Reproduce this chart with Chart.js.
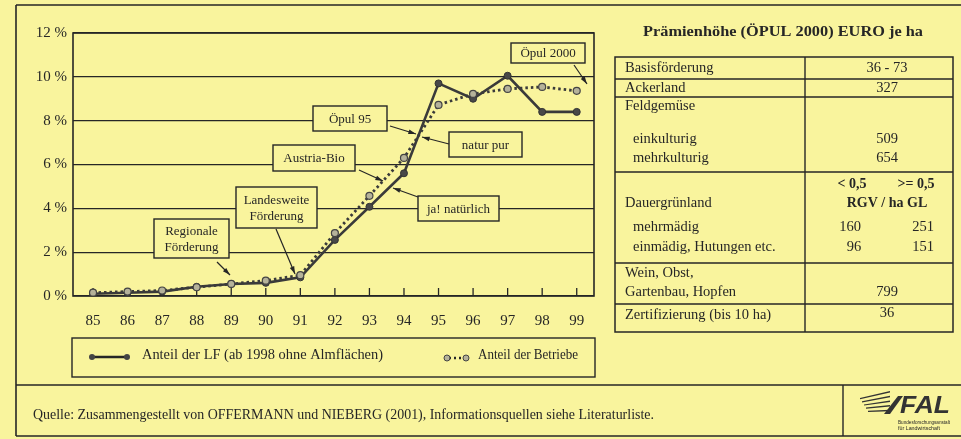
<!DOCTYPE html>
<html>
<head>
<meta charset="utf-8">
<script src="https://cdn.jsdelivr.net/npm/chart.js@4.4.1/dist/chart.umd.min.js"></script>
<style>
  html, body { margin: 0; padding: 0; background: #f9f49d; }
  #wrap { position: relative; width: 961px; height: 439px; }
</style>
</head>
<body>
<div id="wrap"><canvas id="chart" width="961" height="439"></canvas></div>
<script>
// --- data ---
const years = ['85', '86', '87', '88', '89', '90', '91', '92', '93', '94', '95', '96', '97', '98', '99'];
const anteilLF = [0.1, 0.15, 0.2, 0.42, 0.55, 0.6, 0.85, 2.56, 4.07, 5.6, 9.7, 9.0, 10.05, 8.4, 8.4];
const anteilBetriebe = [0.15, 0.2, 0.25, 0.4, 0.55, 0.7, 0.95, 2.87, 4.57, 6.3, 8.72, 9.22, 9.45, 9.54, 9.36];
const yTicks = [0, 2, 4, 6, 8, 10, 12];
const seriesNames = ['Anteil der LF (ab 1998 ohne Almflächen)', 'Anteil der Betriebe'];

const tableTitle = 'Prämienhöhe (ÖPUL 2000) EURO je ha';
const quelle = 'Quelle: Zusammengestellt von OFFERMANN und NIEBERG (2001), Informationsquellen siehe Literaturliste.';

const BG = '#f9f49d';
const INK = '#262626';
const SERIF = '"Liberation Serif", "DejaVu Serif", serif';

function text(ctx, str, x, y, o = {}) {
    const size = o.size || 14;
    ctx.save();
    ctx.font = (o.italic ? 'italic ' : '') + (o.bold ? 'bold ' : '') + size + 'px ' + (o.family || SERIF);
    ctx.fillStyle = o.color || INK;
    ctx.textBaseline = 'middle';
    let w = ctx.measureText(str).width;
    let sx = o.w ? o.w / w : 1;
    let left = x;
    if (o.align === 'center') left = x - w * sx / 2;
    if (o.align === 'right') left = x - w * sx;
    ctx.translate(left, y);
    ctx.scale(sx, 1);
    ctx.textAlign = 'left';
    ctx.fillText(str, 0, 0);
    ctx.restore();
}

function line(ctx, x1, y1, x2, y2, w = 1.3, dash) {
    ctx.save();
    ctx.strokeStyle = INK;
    ctx.lineWidth = w;
    if (dash) ctx.setLineDash(dash);
    ctx.beginPath();
    ctx.moveTo(x1, y1);
    ctx.lineTo(x2, y2);
    ctx.stroke();
    ctx.restore();
}

function arrow(ctx, x1, y1, x2, y2) {
    line(ctx, x1, y1, x2, y2, 1.2);
    const a = Math.atan2(y2 - y1, x2 - x1);
    ctx.save();
    ctx.fillStyle = INK;
    ctx.beginPath();
    ctx.moveTo(x2, y2);
    ctx.lineTo(x2 - 8 * Math.cos(a - 0.3), y2 - 8 * Math.sin(a - 0.3));
    ctx.lineTo(x2 - 8 * Math.cos(a + 0.3), y2 - 8 * Math.sin(a + 0.3));
    ctx.closePath();
    ctx.fill();
    ctx.restore();
}

// annotation boxes: [left, top, right, bottom], arrow [x1, y1, x2, y2]
const notes = [
    { lines: ['Regionale', 'Förderung'], box: [154, 219, 229, 258], arrow: [217, 262, 230, 275] },
    { lines: ['Landesweite', 'Förderung'], box: [236, 187, 317, 228], arrow: [276, 229, 295, 274] },
    { lines: ['Austria-Bio'], box: [273, 145, 355, 171], arrow: [359, 170, 383, 181] },
    { lines: ['Öpul 95'], box: [313, 106, 387, 131], arrow: [390, 126, 416, 134] },
    { lines: ['natur pur'], box: [449, 132, 522, 157], arrow: [449, 144, 422, 137] },
    { lines: ['ja! natürlich'], box: [418, 196, 499, 221], arrow: [418, 197, 393, 188] },
    { lines: ['Öpul 2000'], box: [511, 43, 585, 63], arrow: [574, 65, 587, 84] }
];

const pagePlugin = {
    id: 'page',
    beforeDraw(chart) {
        const ctx = chart.ctx;
        ctx.save();
        ctx.fillStyle = BG;
        ctx.fillRect(0, 0, chart.width, chart.height);
        ctx.restore();
    },
    beforeDatasetsDraw(chart) {
        const ctx = chart.ctx;
        const a = chart.chartArea;
        const xs = chart.scales.x;
        years.forEach(y => {
            const px = xs.getPixelForValue(+y);
            line(ctx, px, a.bottom, px, a.bottom - 8, 1.3);
        });
        ctx.save();
        ctx.strokeStyle = INK;
        ctx.lineWidth = 1.6;
        ctx.strokeRect(a.left, a.top, a.right - a.left, a.bottom - a.top);
        ctx.restore();
    },
    afterDraw(chart) {
        const ctx = chart.ctx;

        // annotations
        notes.forEach(n => {
            const [l, t, r, b] = n.box;
            ctx.save();
            ctx.fillStyle = BG;
            ctx.fillRect(l, t, r - l, b - t);
            ctx.strokeStyle = INK;
            ctx.lineWidth = 1.4;
            ctx.strokeRect(l, t, r - l, b - t);
            ctx.restore();
            const cx = (l + r) / 2;
            const lh = 16;
            const y0 = (t + b) / 2 - (n.lines.length - 1) * lh / 2;
            n.lines.forEach((s, i) => text(ctx, s, cx, y0 + i * lh + 1, { size: 13, align: 'center' }));
            arrow(ctx, ...n.arrow);
        });

        // legend
        ctx.save();
        ctx.strokeStyle = INK;
        ctx.lineWidth = 1.4;
        ctx.strokeRect(72, 338, 523, 39);
        ctx.restore();
        line(ctx, 92, 357, 127, 357, 2.6);
        [92, 127].forEach(x => {
            ctx.beginPath(); ctx.arc(x, 357, 3, 0, Math.PI * 2);
            ctx.fillStyle = '#444'; ctx.fill();
        });
        text(ctx, seriesNames[0], 142, 355, { size: 14, w: 241 });
        line(ctx, 449, 358, 464, 358, 2.4, [2, 3]);
        [447, 466].forEach(x => {
            ctx.beginPath(); ctx.arc(x, 358, 3, 0, Math.PI * 2);
            ctx.fillStyle = '#b5b29a'; ctx.fill();
            ctx.strokeStyle = '#444'; ctx.lineWidth = 1; ctx.stroke();
        });
        text(ctx, seriesNames[1], 478, 355, { size: 14, w: 100 });

        // outer frame
        line(ctx, 16, 5, 961, 5, 1.6);
        line(ctx, 16, 5, 16, 436, 1.6);
        line(ctx, 16, 385, 961, 385, 1.6);
        line(ctx, 16, 436, 961, 436, 1.6);
        line(ctx, 843, 385, 843, 436, 1.4);
        text(ctx, quelle, 33, 415, { size: 14, w: 621 });

        // FAL logo
        ctx.save();
        ctx.fillStyle = '#333';
        for (let i = 0; i < 5; i++) {
            ctx.beginPath();
            const y = 396 + i * 3.2;
            ctx.moveTo(860 + i * 2, y + 2);
            ctx.lineTo(890, y - 5 + i * 1.5);
            ctx.lineTo(890, y - 3.5 + i * 1.5);
            ctx.lineTo(860 + i * 2, y + 3.2);
            ctx.closePath();
            ctx.fill();
        }
        ctx.beginPath();
        ctx.moveTo(884, 414); ctx.lineTo(898, 396); ctx.lineTo(903, 396); ctx.lineTo(890, 414);
        ctx.closePath(); ctx.fill();
        ctx.restore();
        text(ctx, 'FAL', 900, 406, { size: 24, bold: true, italic: true, family: '"Liberation Sans", Arial, sans-serif', color: '#333', w: 50 });
        text(ctx, 'Bundesforschungsanstalt', 898, 422, { size: 6, family: '"Liberation Sans", sans-serif', w: 52 });
        text(ctx, 'für Landwirtschaft', 898, 428, { size: 6, family: '"Liberation Sans", sans-serif', w: 42 });

        // table
        text(ctx, tableTitle, 783, 32, { size: 15, bold: true, align: 'center', w: 280 });
        ctx.save();
        ctx.strokeStyle = INK;
        ctx.lineWidth = 1.5;
        ctx.strokeRect(615, 57, 338, 275);
        ctx.restore();
        line(ctx, 805, 57, 805, 332, 1.4);
        [79, 97, 172, 263, 304].forEach(y => line(ctx, 615, y, 953, y, 1.4));

        const L = 625, LI = 633, C = 887;
        const cells = [
            ['Basisförderung', L, 68], ['Ackerland', L, 88], ['Feldgemüse', L, 106],
            ['einkulturig', LI, 139], ['mehrkulturig', LI, 158], ['Dauergrünland', L, 203],
            ['mehrmädig', LI, 227], ['einmädig, Hutungen etc.', LI, 247],
            ['Wein, Obst,', L, 273], ['Gartenbau, Hopfen', L, 292], ['Zertifizierung (bis 10 ha)', L, 315]
        ];
        cells.forEach(([s, x, y]) => text(ctx, s, x, y, { size: 14.5 }));
        const vals = [
            ['36 - 73', C, 68], ['327', C, 88], ['509', C, 139], ['654', C, 158],
            ['799', C, 292], ['36', C, 313], ['160', 850, 227], ['251', 923, 227],
            ['96', 854, 247], ['151', 923, 247]
        ];
        vals.forEach(([s, x, y]) => text(ctx, s, x, y, { size: 14.5, align: 'center' }));
        text(ctx, '< 0,5', 852, 184, { size: 14, bold: true, align: 'center' });
        text(ctx, '>= 0,5', 916, 184, { size: 14, bold: true, align: 'center' });
        text(ctx, 'RGV / ha GL', C, 203, { size: 14, bold: true, align: 'center' });
    }
};

const ctx = document.getElementById('chart').getContext('2d');

new Chart(ctx, {
    type: 'line',
    plugins: [pagePlugin],
    data: {
        datasets: [
            {
                label: seriesNames[1],
                data: years.map((y, i) => ({ x: +y, y: anteilBetriebe[i] })),
                borderColor: '#3a3a3a',
                borderWidth: 2.8,
                borderDash: [2.5, 3],
                pointRadius: 3.5,
                pointBackgroundColor: '#b5b29a',
                pointBorderColor: '#444',
                pointBorderWidth: 1.2,
                tension: 0,
                order: 0
            },
            {
                label: seriesNames[0],
                data: years.map((y, i) => ({ x: +y, y: anteilLF[i] })),
                borderColor: '#3a3a3a',
                borderWidth: 2.6,
                pointRadius: 3.5,
                pointBackgroundColor: '#484848',
                pointBorderColor: '#333',
                pointBorderWidth: 1,
                tension: 0,
                order: 1
            }
        ]
    },
    options: {
        responsive: false,
        animation: false,
        devicePixelRatio: 1,
        layout: { padding: { left: 0, top: 33, right: 367, bottom: 0 } },
        plugins: {
            legend: { display: false },
            tooltip: { enabled: false }
        },
        scales: {
            x: {
                type: 'linear',
                min: 84.42,
                max: 99.5,
                afterBuildTicks: s => { s.ticks = years.map(v => ({ value: +v })); },
                afterFit: s => { s.height = 143; },
                grid: { display: false },
                border: { display: false },
                ticks: {
                    padding: 8,
                    color: INK,
                    font: { family: SERIF, size: 15 },
                    callback: v => String(v)
                }
            },
            y: {
                min: 0,
                max: 12,
                afterBuildTicks: s => { s.ticks = yTicks.map(v => ({ value: v })); },
                afterFit: s => { s.width = 73; },
                grid: { color: INK, lineWidth: 1.3, drawTicks: false },
                border: { display: false },
                ticks: {
                    padding: 6,
                    color: INK,
                    font: { family: SERIF, size: 15 },
                    callback: v => v + ' %'
                }
            }
        }
    }
});
</script>
</body>
</html>
